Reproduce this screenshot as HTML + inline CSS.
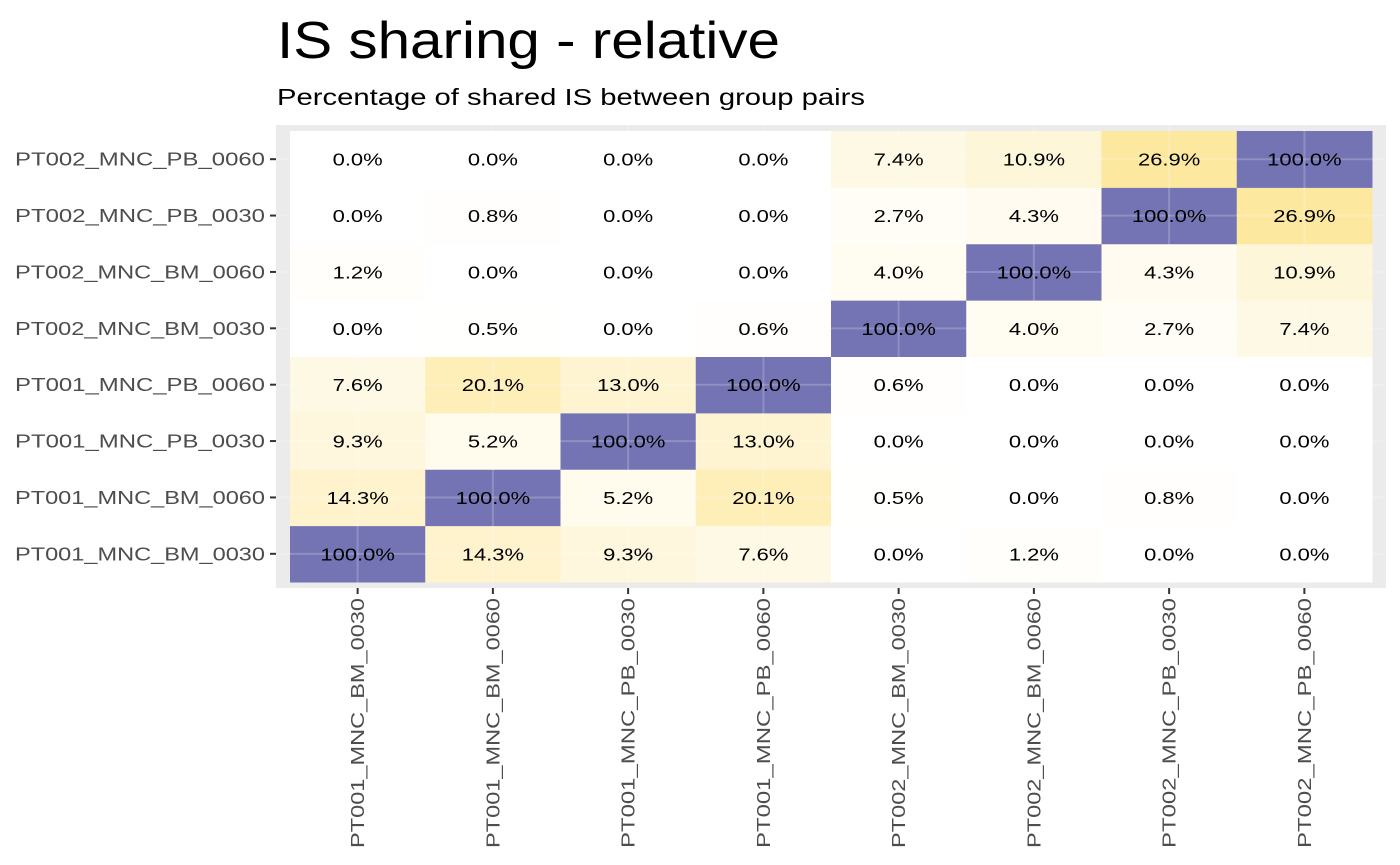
<!DOCTYPE html>
<html><head><meta charset="utf-8"><style>
body{margin:0;background:#fff;}
svg{display:block;font-family:"Liberation Sans",Arial,sans-serif;}
</style></head><body>
<svg id="chart" width="1400" height="865">
<text x="277" y="58" font-size="52" textLength="503" lengthAdjust="spacingAndGlyphs" fill="#000">IS sharing - relative</text>
<text x="277" y="105" font-size="23" textLength="588" lengthAdjust="spacingAndGlyphs" fill="#000">Percentage of shared IS between group pairs</text>
<rect x="276" y="125" width="1110" height="463" fill="#ebebeb"/>
<g id="tiles"></g><g id="grid"></g><g id="labels"></g><g id="axes"></g>
</svg>
<script>
const groups=["PT001_MNC_BM_0030","PT001_MNC_BM_0060","PT001_MNC_PB_0030","PT001_MNC_PB_0060","PT002_MNC_BM_0030","PT002_MNC_BM_0060","PT002_MNC_PB_0030","PT002_MNC_PB_0060"];
// rows indexed by y group (bottom to top), columns by x group
const values=[
[100.0,14.3,9.3,7.6,0.0,1.2,0.0,0.0],
[14.3,100.0,5.2,20.1,0.5,0.0,0.8,0.0],
[9.3,5.2,100.0,13.0,0.0,0.0,0.0,0.0],
[7.6,20.1,13.0,100.0,0.6,0.0,0.0,0.0],
[0.0,0.5,0.0,0.6,100.0,4.0,2.7,7.4],
[1.2,0.0,0.0,0.0,4.0,100.0,4.3,10.9],
[0.0,0.8,0.0,0.0,2.7,4.3,100.0,26.9],
[0.0,0.0,0.0,0.0,7.4,10.9,26.9,100.0]];
const NS="http://www.w3.org/2000/svg";
const x0=290,x1=1372,y0=582,y1=131,n=groups.length;
const cw=(x1-x0)/n,ch=(y0-y1)/n;
const xc=i=>x0+cw*(i+0.5);
const yc=j=>y0-ch*(j+0.5);
function lerp(a,b,t){return a.map((v,k)=>Math.round(v+(b[k]-v)*t));}
function color(v){
 const W=[255,255,255],Y=[253,232,160],B=[116,116,180];
 let c= v<=27? lerp(W,Y,v/27) : lerp(Y,B,(v-27)/73);
 return `rgb(${c[0]},${c[1]},${c[2]})`;
}
function mk(tag,attrs,parent){const e=document.createElementNS(NS,tag);for(const k in attrs)e.setAttribute(k,attrs[k]);document.getElementById(parent).appendChild(e);return e;}
values.forEach((row,j)=>row.forEach((v,i)=>{
 const r=mk('rect',{x:xc(i)-cw/2,y:yc(j)-ch/2,width:cw+0.5,height:ch+0.5,fill:color(v)},'tiles');
 
 
 const t=mk('text',{x:0,y:0,'font-size':18,'text-anchor':'middle',fill:'#000',transform:`translate(${xc(i)},${yc(j)+6.5}) scale(1.22,1)`},'labels');
 t.textContent=v.toFixed(1)+'%';
 
 
}));
groups.forEach((g,i)=>{
 const gv=mk('line',{x1:xc(i),x2:xc(i),y1:125,y2:588,stroke:'#fff','stroke-opacity':0.2,'stroke-width':2},'grid');
 
 
 const gh=mk('line',{x1:276,x2:1386,y1:yc(i),y2:yc(i),stroke:'#fff','stroke-opacity':0.2,'stroke-width':2},'grid');
 
 
 const tx=mk('line',{x1:xc(i),x2:xc(i),y1:588,y2:594,stroke:'#333','stroke-width':2},'axes');
 
 
 const ty=mk('line',{x1:270,x2:276,y1:yc(i),y2:yc(i),stroke:'#333','stroke-width':2},'axes');
 
 
 const lx=mk('text',{x:0,y:0,'font-size':18,fill:'#4d4d4d','text-anchor':'end',textLength:250,lengthAdjust:'spacingAndGlyphs',transform:`translate(${xc(i)+6.5},598) rotate(-90)`},'axes');
 lx.textContent=g;
 
 
 const ly=mk('text',{x:265,y:yc(i)+6.5,'font-size':18,fill:'#4d4d4d','text-anchor':'end',textLength:250,lengthAdjust:'spacingAndGlyphs'},'axes');
 ly.textContent=g;
 
 
});
</script>
</body></html>
